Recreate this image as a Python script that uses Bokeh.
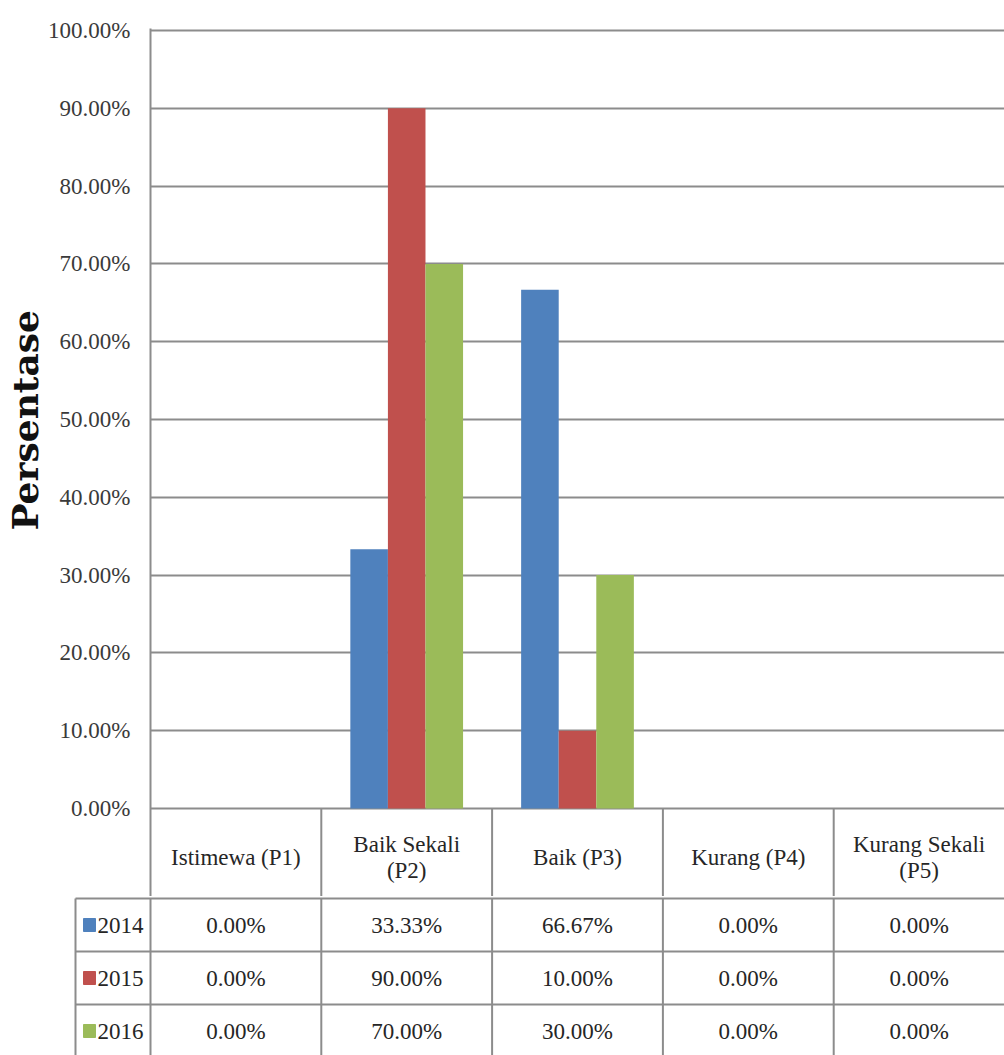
from bokeh.plotting import figure
from bokeh.models import ColumnDataSource, FactorRange, Range1d, FixedTicker, NumeralTickFormatter, Title
from bokeh.transform import dodge
from bokeh.layouts import column
from bokeh.core.properties import value
from bokeh.embed import file_html
from bokeh.resources import INLINE

# ---------------- data ----------------
categories = ["Istimewa (P1)", "Baik Sekali (P2)", "Baik (P3)", "Kurang (P4)", "Kurang Sekali (P5)"]
header_labels = ["Istimewa (P1)", "Baik Sekali\n(P2)", "Baik (P3)", "Kurang (P4)", "Kurang Sekali\n(P5)"]
years = ["2014", "2015", "2016"]
v2014 = [0.00, 33.33, 66.67, 0.00, 0.00]
v2015 = [0.00, 90.00, 10.00, 0.00, 0.00]
v2016 = [0.00, 70.00, 30.00, 0.00, 0.00]
y_ticks = [0, 10, 20, 30, 40, 50, 60, 70, 80, 90, 100]
y_title = "Persentase"

# ---------------- styles ----------------
colors = ["#4F81BD", "#C0504D", "#9BBB59"]
LINE = "#8c8c8c"
SERIF = "Liberation Serif"
TXT = "#262626"
FS = "23px"

PX_PER_UNIT = 778.0       # pixels per 100%
COL_PX = 854.0 / 5        # pixels per category column
LEFT = 150
TOP = 28
FIG1_H = 896
ZERO_PX = 808
FIG2_H = 1055 - FIG1_H
ROW_PX = 53.0
TITLE_BOTTOM_PX = 530

series = [v2014, v2015, v2016]
src = ColumnDataSource(dict(cat=categories,
                            y2014=[v / 100 for v in v2014],
                            y2015=[v / 100 for v in v2015],
                            y2016=[v / 100 for v in v2016]))

y_start = -(FIG1_H - ZERO_PX) / PX_PER_UNIT
y_end = 1.0 + (ZERO_PX - TOP - PX_PER_UNIT) / PX_PER_UNIT

p = figure(width=1004, height=FIG1_H, x_range=FactorRange(*categories),
           y_range=Range1d(y_start, y_end), x_axis_location=None,
           toolbar_location=None, output_backend="svg",
           min_border_left=LEFT, min_border_right=0, min_border_top=TOP, min_border_bottom=0,
           outline_line_color=None, background_fill_color="white", border_fill_color="white")
p.frame_align = False

p.xgrid.visible = False
p.ygrid.grid_line_color = LINE
p.ygrid.grid_line_width = 2

ax = p.yaxis[0]
ax.ticker = FixedTicker(ticks=[t / 100 for t in y_ticks])
ax.formatter = NumeralTickFormatter(format="0.00%")
ax.axis_line_color = LINE
ax.axis_line_width = 2
ax.major_tick_line_color = None
ax.minor_tick_line_color = None
ax.major_tick_out = 0
ax.major_tick_in = 0
ax.major_label_standoff = 20
ax.major_label_text_font = SERIF
ax.major_label_text_font_size = FS
ax.major_label_text_color = "#3a3a3a"

# y-axis title, in the left panel, placed over the 0-100% span
p.add_layout(Title(text=y_title, align="left", offset=FIG1_H - TITLE_BOTTOM_PX,
                   text_font="DejaVu Serif", text_font_style="bold",
                   text_font_size="36px", text_color="#111111", standoff=0), "left")

offsets = [-0.22, 0.0, 0.22]
for key, off, c in zip(["y2014", "y2015", "y2016"], offsets, colors):
    p.vbar(x=dodge("cat", off, range=p.x_range), top=key, width=0.22, source=src,
           fill_color=c, line_color=None)

# header row of the table (inside the lower part of the frame)
p.segment(x0=[1, 2, 3, 4], x1=[1, 2, 3, 4], y0=[0] * 4, y1=[y_start - 0.1] * 4,
          line_color=LINE, line_width=2)
header_y = -((ZERO_PX + FIG1_H) / 2 + 5 - ZERO_PX) / PX_PER_UNIT
p.text(x=categories, y=[header_y] * len(categories), text=header_labels,
       text_align="center", text_baseline="middle", text_font=value(SERIF),
       text_font_size=FS, text_color=TXT, text_line_height=1.05)

# ---------------- table body ----------------
x2_start = -LEFT / COL_PX
top_pad = 2 / ROW_PX
q = figure(width=1004, height=FIG2_H, x_range=Range1d(x2_start, 5),
           y_range=Range1d(-(FIG2_H - 2) / ROW_PX, top_pad),
           x_axis_location=None, y_axis_location=None, toolbar_location=None,
           output_backend="svg", min_border=0, min_border_left=0, min_border_right=0,
           min_border_top=0, min_border_bottom=0, outline_line_color=None,
           background_fill_color="white", border_fill_color="white")
q.frame_align = False
q.grid.visible = False

leg_left = (75 - LEFT) / COL_PX
q.segment(x0=[leg_left] * 3, x1=[5.2] * 3, y0=[0, -1, -2], y1=[0, -1, -2],
          line_color=LINE, line_width=2)
vx = [leg_left, 0, 1, 2, 3, 4]
q.segment(x0=vx, x1=vx, y0=[0] * len(vx), y1=[-4] * len(vx),
          line_color=LINE, line_width=2)

for r, (yr, vals, c) in enumerate(zip(years, series, colors)):
    yc = -(r + 0.5)
    q.text(x=[i + 0.5 for i in range(len(categories))], y=[yc] * len(categories),
           text=[f"{v:.2f}%" for v in vals], text_align="center", text_baseline="middle",
           text_font=value(SERIF), text_font_size=FS, text_color=TXT)
    q.rect(x=[(89 - LEFT) / COL_PX], y=[yc], width=12, height=13,
           width_units="screen", height_units="screen", fill_color=c, line_color=c)
    q.text(x=[(97 - LEFT) / COL_PX], y=[yc], text=[yr], text_align="left",
           text_baseline="middle", text_font=value(SERIF), text_font_size=FS,
           text_color=TXT)

layout = column(p, q, spacing=0)
open("out.html", "w").write(file_html(layout, INLINE))
